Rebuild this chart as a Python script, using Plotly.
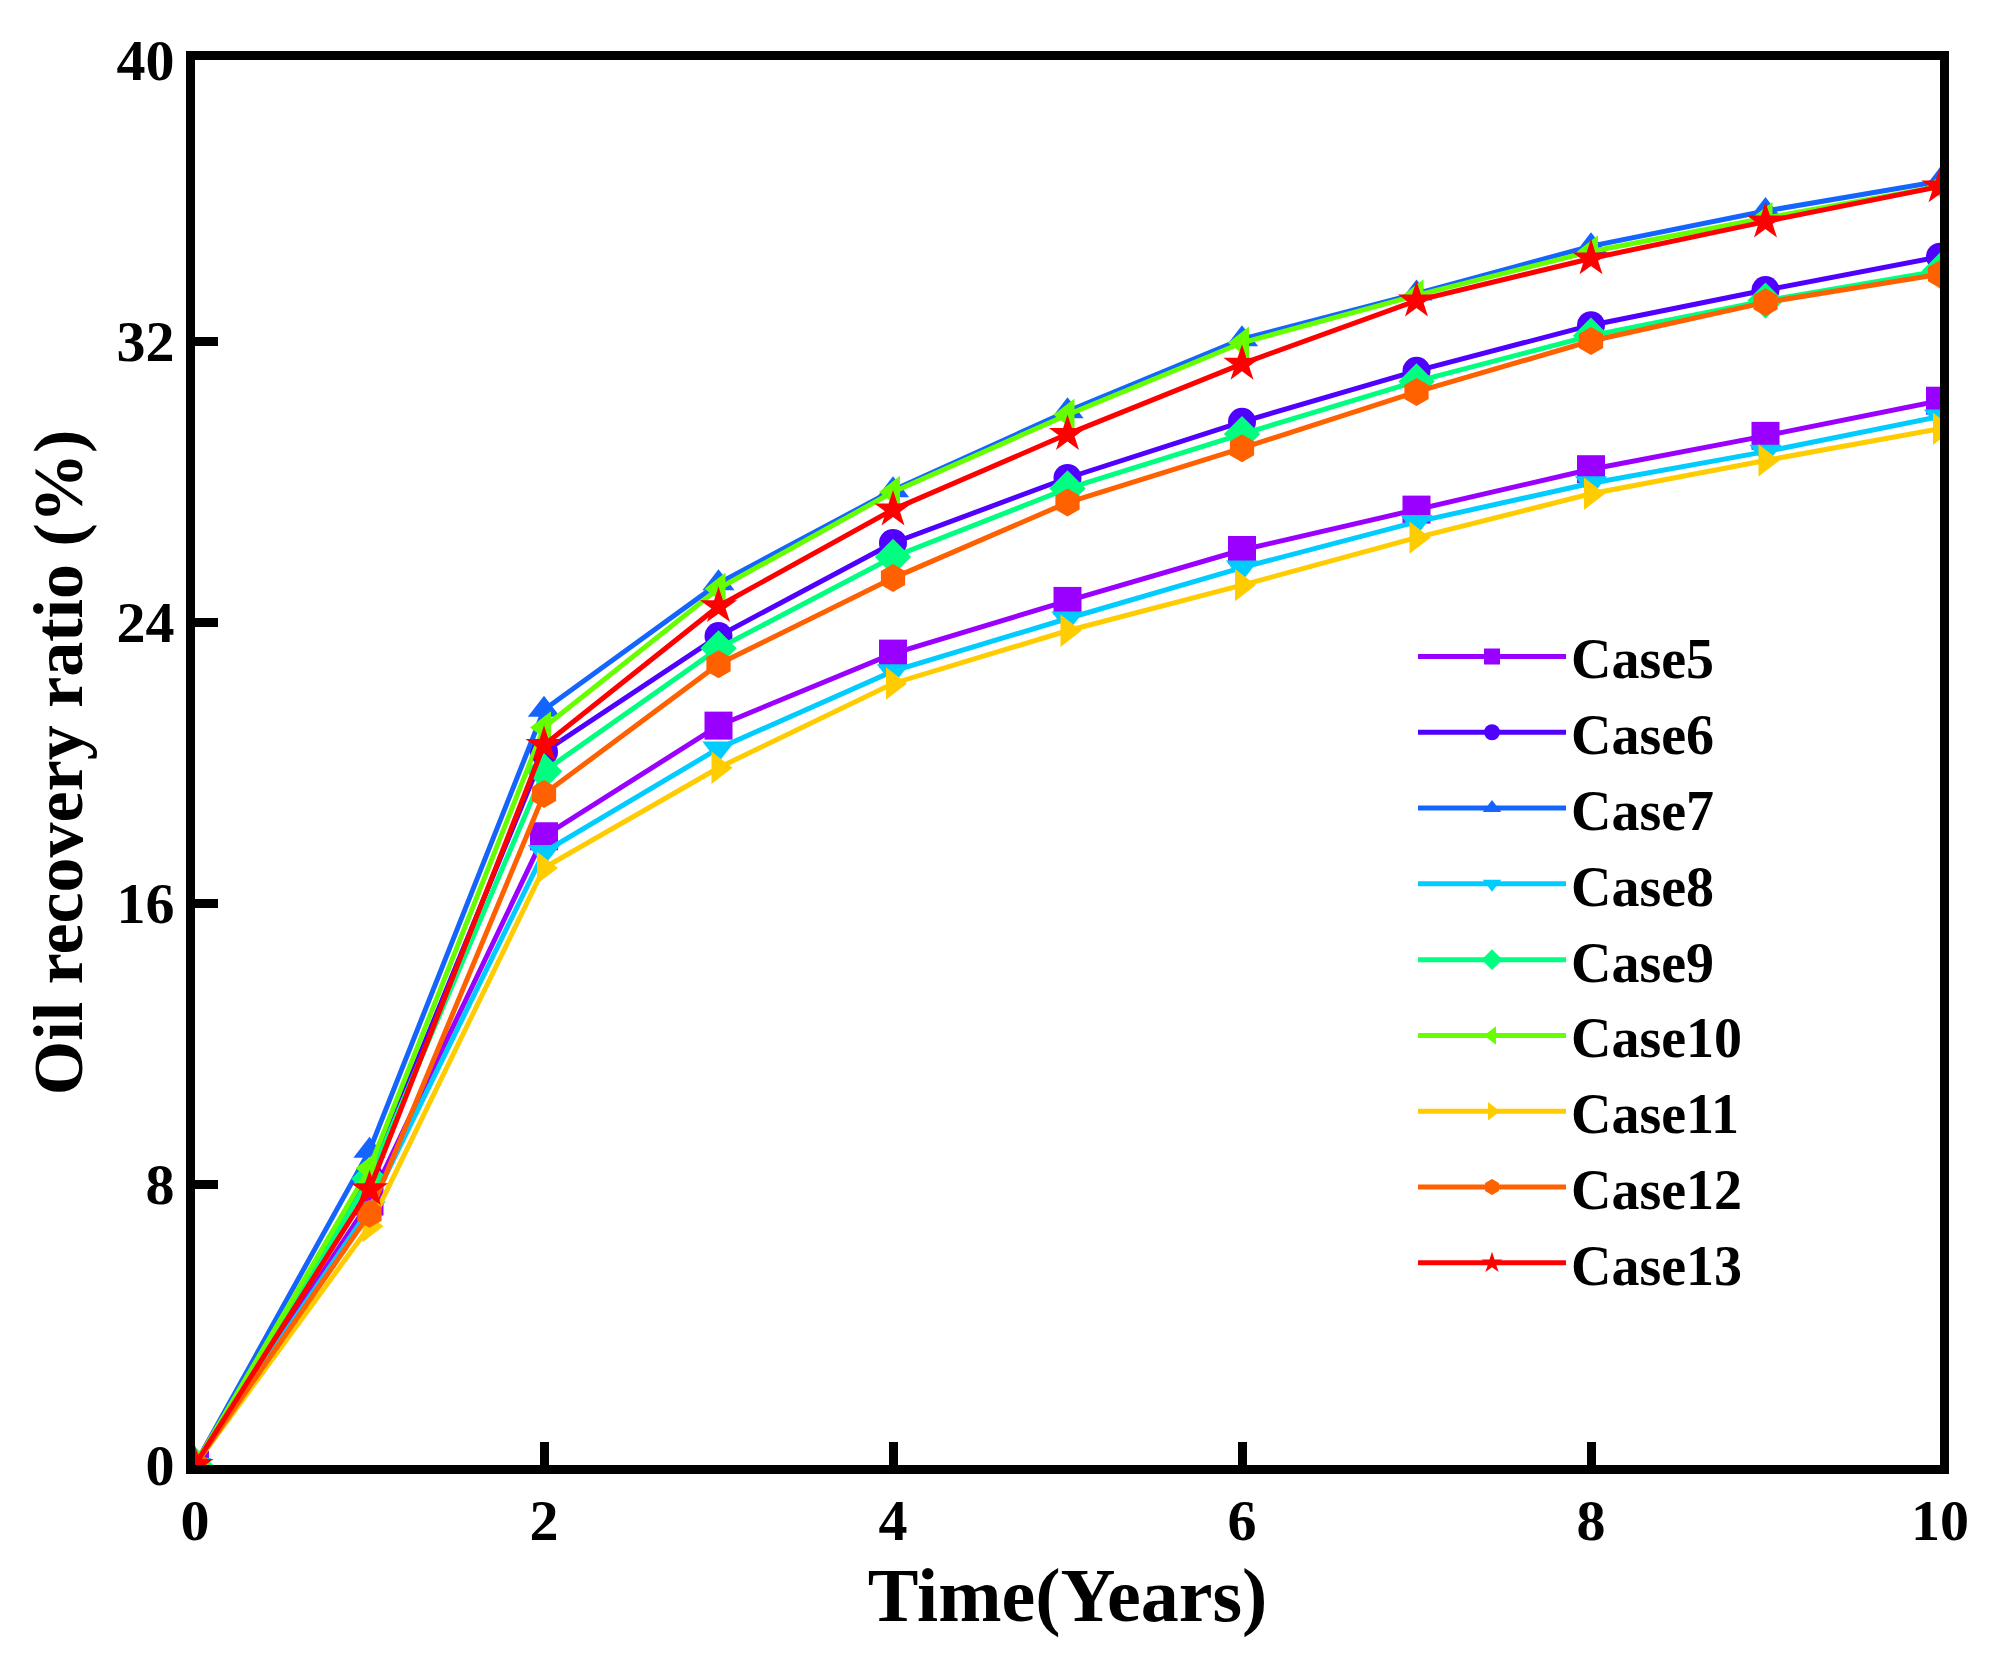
import plotly.graph_objects as go

# ---- datos ----
years = [0, 1, 2, 3, 4, 5, 6, 7, 8, 9, 10]

case5 = [0, 7.5, 17.9, 21.05, 23.1, 24.6, 26.05, 27.2, 28.35, 29.3, 30.3]
case6 = [0, 8.2, 20.3, 23.6, 26.25, 28.1, 29.7, 31.15, 32.45, 33.45, 34.4]
case7 = [0, 8.95, 21.5, 25.1, 27.75, 30.0, 32.05, 33.35, 34.7, 35.7, 36.55]
case8 = [0, 7.3, 17.45, 20.4, 22.6, 24.1, 25.55, 26.85, 27.95, 28.85, 29.85]
case9 = [0, 8.15, 19.75, 23.25, 25.85, 27.8, 29.35, 30.85, 32.15, 33.15, 34.0]
case10 = [0, 8.45, 21.0, 24.95, 27.7, 29.9, 31.95, 33.3, 34.55, 35.5, 36.4]
case11 = [0, 6.8, 17.0, 19.85, 22.25, 23.75, 25.05, 26.4, 27.65, 28.6, 29.5]
case12 = [0, 7.15, 19.1, 22.8, 25.25, 27.4, 28.95, 30.55, 32.0, 33.1, 33.9]
case13 = [0, 7.85, 20.5, 24.45, 27.2, 29.35, 31.35, 33.15, 34.35, 35.4, 36.4]

names = ["Case5", "Case6", "Case7", "Case8", "Case9",
         "Case10", "Case11", "Case12", "Case13"]
series = [case5, case6, case7, case8, case9, case10, case11, case12, case13]

# estilo de cada serie
colors = ["#9900FF", "#4F00FF", "#1464FF", "#00CCFF", "#00FF80",
          "#66FF00", "#FFCC00", "#FF6000", "#FF0000"]
symbols = ["square", "circle", "triangle-up", "triangle-down", "diamond",
           "triangle-left", "triangle-right", "hexagon", "star"]

FONT = "Liberation Serif"

fig = go.Figure()
for name, ys, col, sym in zip(names, series, colors, symbols):
    fig.add_trace(go.Scatter(
        x=years, y=ys, name=name, mode="lines+markers",
        line=dict(color=col, width=5),
        marker=dict(symbol=sym, size=28, color=col),
    ))

axis_common = dict(
    showline=True, linecolor="black", linewidth=9, mirror=True,
    ticks="inside", ticklen=23, tickwidth=9, tickcolor="black",
    showgrid=False, zeroline=False,
    tickfont=dict(family=FONT, size=58, color="black", weight="bold"),
)

fig.update_xaxes(
    range=[0, 10], tickvals=[0, 2, 4, 6, 8, 10], ticklabelstandoff=-4,
    title=dict(text="Time(Years)", standoff=0,
               font=dict(family=FONT, size=76, color="black", weight="bold")),
    **axis_common,
)
fig.update_yaxes(
    range=[0, 40], tickvals=[0, 8, 16, 24, 32, 40], ticklabelstandoff=0,
    title=dict(text="Oil recovery ratio (%)", standoff=14,
               font=dict(family=FONT, size=70, color="black", weight="bold")),
    **axis_common,
)

fig.update_layout(
    width=1995, height=1663,
    plot_bgcolor="white", paper_bgcolor="white",
    margin=dict(l=187, r=63, t=52, b=206),
    font=dict(family=FONT, color="black"),
    legend=dict(
        x=0.698, y=0.606, xanchor="left", yanchor="top",
        bgcolor="rgba(0,0,0,0)", itemwidth=148,
        font=dict(family=FONT, size=56, color="black", weight="bold"),
        tracegroupgap=0,
    ),
)

fig.write_html("out.html")
